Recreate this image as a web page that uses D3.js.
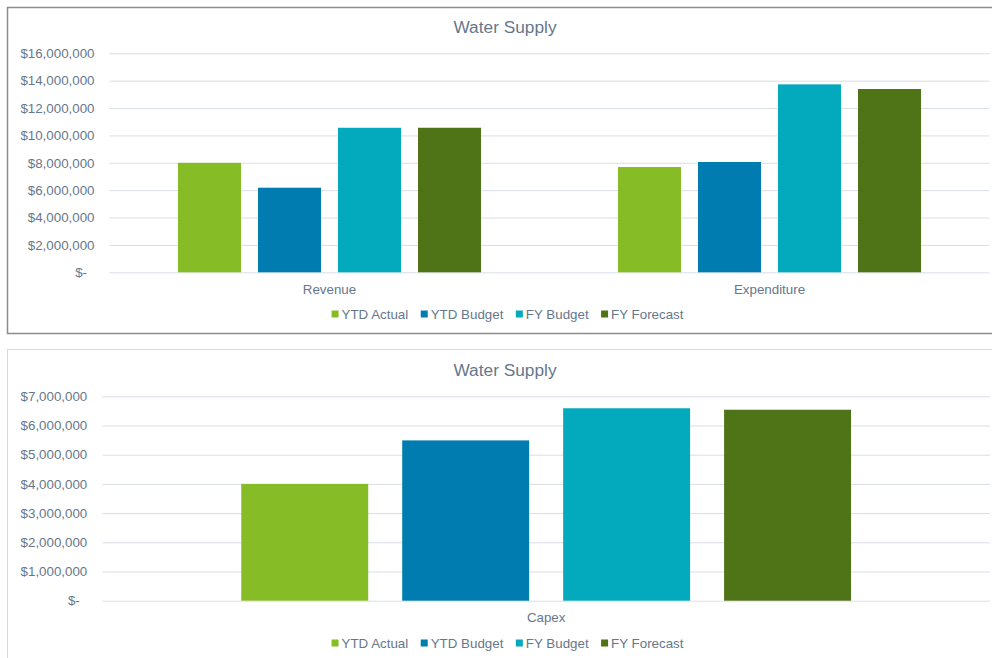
<!DOCTYPE html>
<html>
<head>
<meta charset="utf-8">
<script src="https://cdn.jsdelivr.net/npm/d3@7"></script>
<style>
  body { margin: 0; background: #fff; }
  text { font-family: "Liberation Sans", Arial, sans-serif; fill: #66778c; }
</style>
</head>
<body>
<div id="allContainer"></div>
<script>
// data
var series = ["YTD Actual", "YTD Budget", "FY Budget", "FY Forecast"];
var seriesColors = ["#86bc25", "#007cb0", "#03a9bc", "#4f7317"];

var opCategories = ["Revenue", "Expenditure"];
var revenueValues = [8000000, 6180000, 10560000, 10560000];
var expenditureValues = [7690000, 8060000, 13730000, 13390000];
var opTicks = [0, 2000000, 4000000, 6000000, 8000000, 10000000, 12000000, 14000000, 16000000];

var capexCategories = ["Capex"];
var capexValues = [4000000, 5490000, 6590000, 6540000];
var capexTicks = [0, 1000000, 2000000, 3000000, 4000000, 5000000, 6000000, 7000000];

var chartTitle = "Water Supply";

var svg = d3.select("#allContainer")
    .append("svg")
    .attr("width", 992)
    .attr("height", 658);

var color = d3.scaleOrdinal().domain(series).range(seriesColors);

function moneyFormat(d) {
    return d === 0 ? "$-" : "$" + d3.format(",")(d);
}

function drawChart(cfg) {
    var g = svg.append("g");

    // frame
    g.append("rect")
        .attr("x", cfg.box.x + 0.5)
        .attr("y", cfg.box.y + 0.5)
        .attr("width", cfg.box.w)
        .attr("height", cfg.box.h)
        .attr("fill", "#fff")
        .attr("stroke", cfg.box.stroke)
        .attr("stroke-width", cfg.box.sw);

    // title
    g.append("text")
        .attr("x", 505)
        .attr("y", cfg.titleY)
        .attr("font-size", 17.3)
        .attr("text-anchor", "middle")
        .text(chartTitle);

    var yScale = d3.scaleLinear()
        .domain([0, d3.max(cfg.ticks)])
        .range([cfg.bottom, cfg.top]);

    var x0 = d3.scaleBand()
        .domain(cfg.categories)
        .range([cfg.left, cfg.right]);

    var x1 = d3.scaleBand()
        .domain(series)
        .range([0, x0.bandwidth()])
        .paddingInner(cfg.padIn)
        .paddingOuter(cfg.padOut);

    var yAxis = d3.axisLeft(yScale)
        .tickValues(cfg.ticks)
        .tickFormat(moneyFormat)
        .tickSizeInner(-(cfg.right - cfg.left))
        .tickSizeOuter(0)
        .tickPadding(15);

    var yAxisGroup = g.append("g")
        .attr("class", "y axis")
        .attr("transform", "translate(" + cfg.left + ",0)")
        .call(yAxis);

    yAxisGroup.select(".domain").remove();
    yAxisGroup.selectAll("line").attr("stroke", "#d9dee7");
    yAxisGroup.selectAll("text")
        .attr("font-size", 13.33)
        .attr("fill", "#66778c")
        .style("font-family", "'Liberation Sans', Arial, sans-serif")
        .attr("dx", function (d) { return d === 0 ? -7.5 : 0; });

    // bars
    cfg.categories.forEach(function (cat, ci) {
        g.append("g")
            .selectAll("rect")
            .data(cfg.values[ci])
            .enter()
            .append("rect")
            .attr("x", function (d, i) { return x0(cat) + x1(series[i]); })
            .attr("y", function (d) { return yScale(d); })
            .attr("width", x1.bandwidth())
            .attr("height", function (d) { return yScale(0) - yScale(d); })
            .attr("fill", function (d, i) { return color(series[i]); });

        g.append("text")
            .attr("x", x0(cat) + x0.bandwidth() / 2)
            .attr("y", cfg.catLabelY)
            .attr("font-size", 13.33)
            .attr("text-anchor", "middle")
            .text(cat);
    });

    // legend
    var legend = g.append("g").attr("class", "legend");
    var items = legend.selectAll("g")
        .data(series)
        .enter()
        .append("g");

    items.append("rect")
        .attr("width", 7)
        .attr("height", 7)
        .attr("y", -3.5)
        .attr("fill", function (d) { return color(d); });

    items.append("text")
        .attr("x", 10)
        .attr("y", 4.8)
        .attr("font-size", 13.33)
        .text(function (d) { return d; });

    var gap = 12.5;
    var xpos = 0;
    items.each(function () {
        var item = d3.select(this);
        item.attr("transform", "translate(" + xpos + ",0)");
        xpos += 10 + item.select("text").node().getComputedTextLength() + gap;
    });
    var total = xpos - gap;
    legend.attr("transform", "translate(" + (507.5 - total / 2) + "," + cfg.legendY + ")");
}

drawChart({
    box: { x: 7, y: 7, w: 1000, h: 326, stroke: "#8c8c8c", sw: 1.5 },
    titleY: 33,
    categories: opCategories,
    values: [revenueValues, expenditureValues],
    ticks: opTicks,
    left: 109.5, right: 989.5, top: 53.3, bottom: 272.3,
    padIn: 0.2125, padOut: 0.856,
    catLabelY: 293.5,
    legendY: 314
});

drawChart({
    box: { x: 7, y: 349, w: 1000, h: 320, stroke: "#d9d9d9", sw: 1 },
    titleY: 376,
    categories: capexCategories,
    values: [capexValues],
    ticks: capexTicks,
    left: 102.3, right: 990, top: 396.3, bottom: 600.7,
    padIn: 0.2112, padOut: 0.8634,
    catLabelY: 622,
    legendY: 643
});
</script>
</body>
</html>
